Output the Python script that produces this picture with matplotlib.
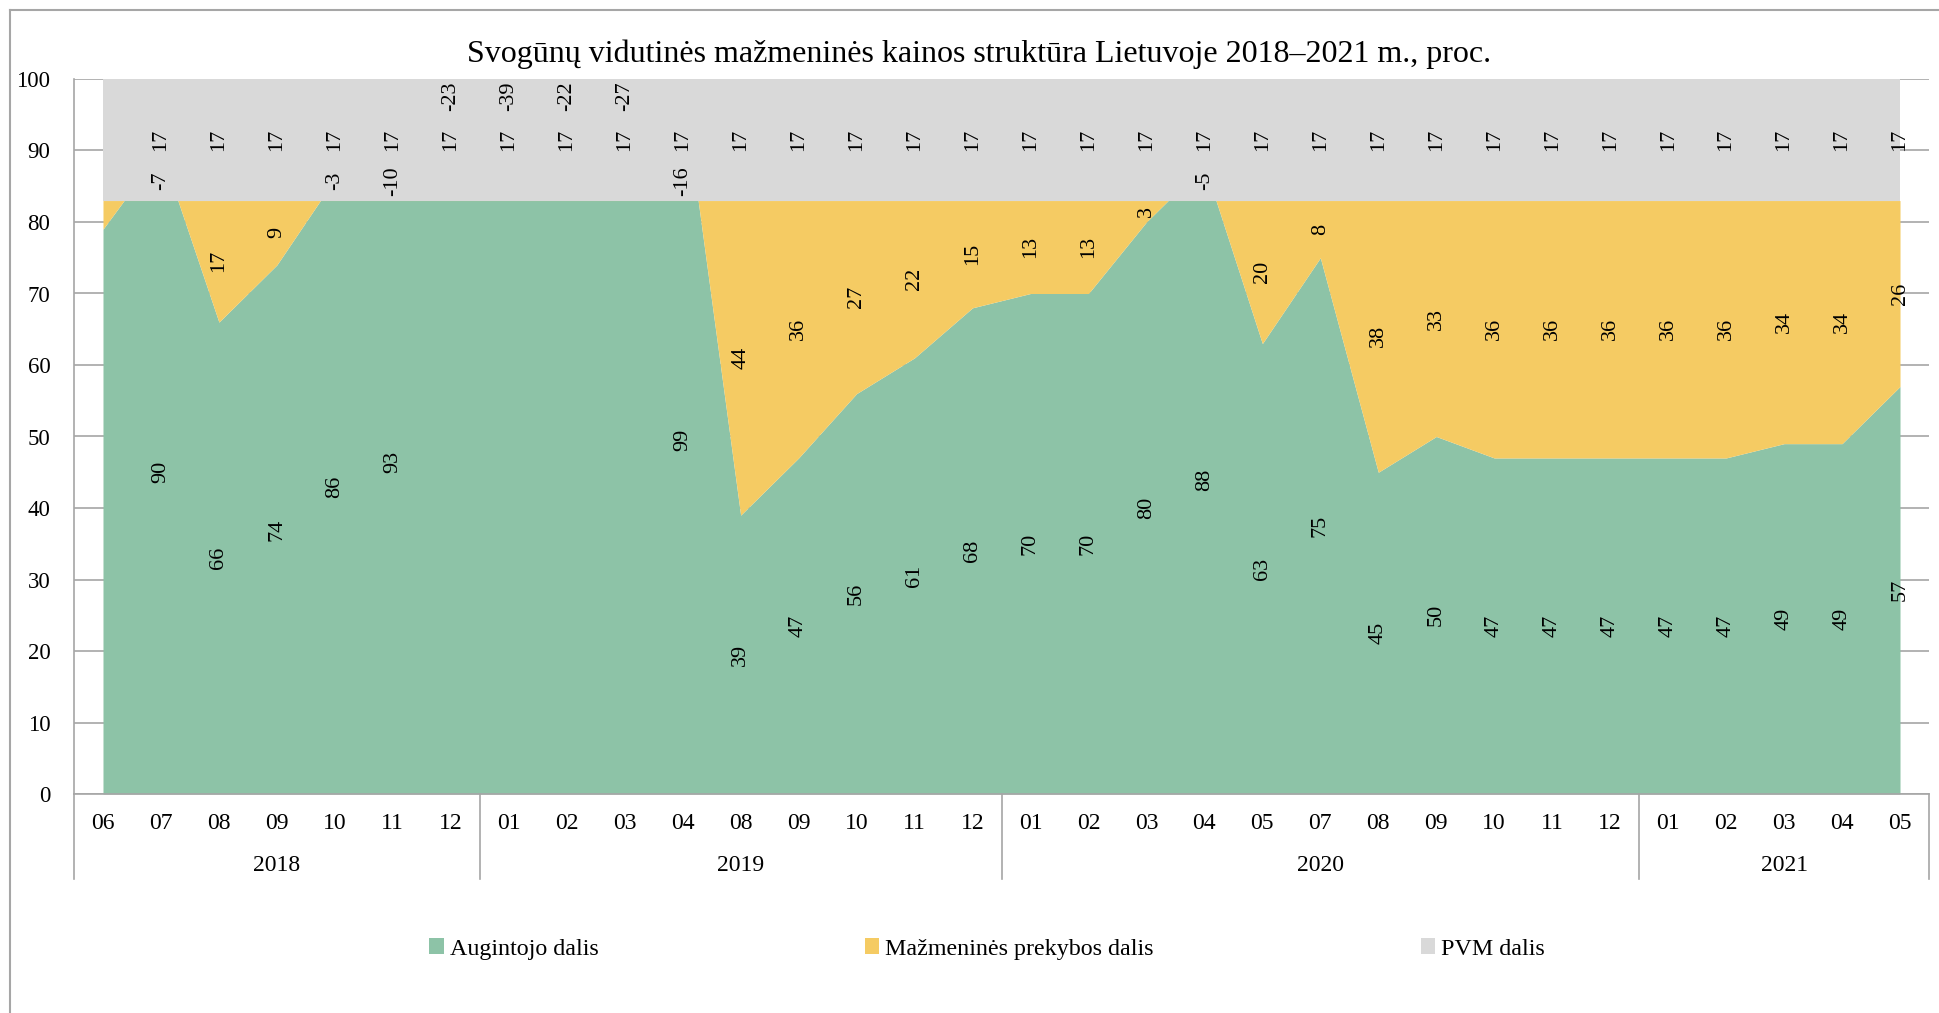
import matplotlib
matplotlib.use("Agg")
import matplotlib.pyplot as plt
import matplotlib.transforms as mtransforms
from matplotlib.patches import Patch
from matplotlib.lines import Line2D
import numpy as np

plt.rcParams['font.family'] = ['Liberation Serif', 'DejaVu Serif']

months = ["06", "07", "08", "09", "10", "11", "12",
          "01", "02", "03", "04", "08", "09", "10", "11", "12",
          "01", "02", "03", "04", "05", "07", "08", "09", "10", "11", "12",
          "01", "02", "03", "04", "05"]
years = ["2018", "2019", "2020", "2021"]
year_counts = [7, 9, 11, 5]

grower = [79, 90, 66, 74, 86, 93, 106,
          122, 105, 110, 99, 39, 47, 56, 61, 68,
          70, 70, 80, 88, 63, 75, 45, 50, 47, 47, 47,
          47, 47, 49, 49, 57]
retail = [4, -7, 17, 9, -3, -10, -23,
          -39, -22, -27, -16, 44, 36, 27, 22, 15,
          13, 13, 3, -5, 20, 8, 38, 33, 36, 36, 36,
          36, 36, 34, 34, 26]
vat = [17] * 32

series_names = ["Augintojo dalis", "Mažmeninės prekybos dalis", "PVM dalis"]
title = "Svogūnų vidutinės mažmeninės kainos struktūra Lietuvoje 2018–2021 m., proc."

c_green = "#8DC3A7"
c_yellow = "#F5CB63"
c_gray = "#D9D9D9"
c_axis = "#A6A6A6"

W, H = 1939, 1013
fig = plt.figure(figsize=(W / 100, H / 100), dpi=100)
ax = fig.add_axes([74 / W, 1 - 794 / H, (1929 - 74) / W, (794 - 79) / H])

x = np.arange(len(months))
g = np.array(grower, float)
r = np.array(retail, float)
v = np.array(vat, float)
c1 = g
c2 = g + r
c3 = c2 + v

ax.set_axisbelow(True)
ax.yaxis.grid(True, color=c_axis, linewidth=1.2, zorder=0)
ax.fill_between(x, 0, c1, color=c_green, linewidth=0, zorder=1)
ax.fill_between(x, c1, c2, color=c_yellow, linewidth=0, zorder=2)
ax.fill_between(x, c2, c3, color=c_gray, linewidth=0, zorder=3)

ax.set_xlim(-0.5, len(months) - 0.5)
ax.set_ylim(0, 100)
ax.set_yticks(np.arange(0, 101, 10))
ax.tick_params(axis='y', length=0, pad=17, labelsize=16.5)
ax.set_xticks(x)
ax.set_xticklabels(months)
ax.tick_params(axis='x', length=0, pad=14, labelsize=17)
for s in ["top", "right"]:
    ax.spines[s].set_visible(False)
for s in ["left", "bottom"]:
    ax.spines[s].set_color(c_axis)
    ax.spines[s].set_linewidth(1.2)
    ax.spines[s].set_zorder(5)

# data labels
fs_lab = 16
for i in range(len(months)):
    if i == 0:
        continue
    if g[i] <= 100:
        ax.text(x[i], g[i] / 2, f"{grower[i]}", rotation=90, ha='center', va='center',
                fontsize=fs_lab, zorder=6)
    if r[i] >= 0:
        yr = g[i] + r[i] / 2
    else:
        yr = 85.7 if g[i] <= 100 else 97.6
    ax.text(x[i], yr, f"{retail[i]}", rotation=90, ha='center', va='center',
            fontsize=fs_lab, zorder=6)
    ax.text(x[i], c2[i] + v[i] / 2, f"{vat[i]}", rotation=90, ha='center', va='center',
            fontsize=fs_lab, zorder=6)

# year grouping
trans = mtransforms.blended_transform_factory(ax.transData, ax.transAxes)
ybot = -(879 - 794) / (794 - 79)
yyear = -(865 - 794) / (794 - 79)
bounds = np.concatenate([[0], np.cumsum(year_counts)]) - 0.5
for b in bounds:
    ax.add_line(Line2D([b, b], [0, ybot], transform=trans, color=c_axis,
                       linewidth=1.2, clip_on=False))
for k, yname in enumerate(years):
    mid = (bounds[k] + bounds[k + 1]) / 2
    ax.text(mid, yyear, yname, transform=trans, ha='center', va='center', fontsize=17)

fig.text(979 / W, 1 - 54 / H, title, ha='center', va='center', fontsize=23)

handles = [Patch(facecolor=c, edgecolor='none') for c in (c_green, c_yellow, c_gray)]
fig.legend(handles, series_names, loc='center', bbox_to_anchor=(0.509, 1 - 949 / H),
           ncol=3, frameon=False, fontsize=17.3, handlelength=0.6, handleheight=0.6,
           handletextpad=0.25, columnspacing=11.1)

# outer chart border (top and left visible)
fig.add_artist(Line2D([10 / W, 1], [1 - 10 / H, 1 - 10 / H], transform=fig.transFigure,
                      color=c_axis, linewidth=1.5))
fig.add_artist(Line2D([10 / W, 10 / W], [0, 1 - 10 / H], transform=fig.transFigure,
                      color=c_axis, linewidth=1.5))

fig.savefig("out.png", dpi=100)
